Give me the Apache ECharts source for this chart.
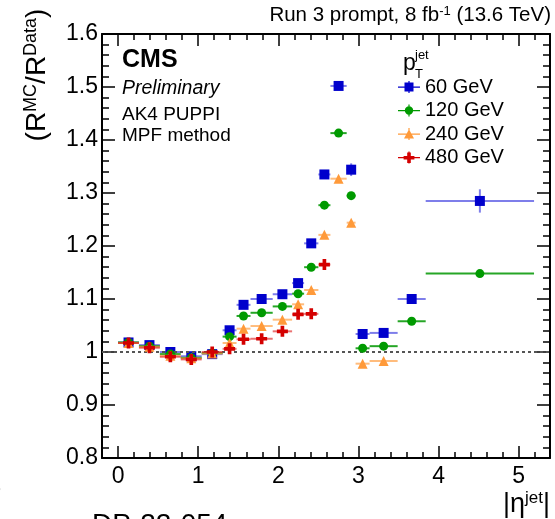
<!DOCTYPE html>
<html>
<head>
<meta charset="utf-8">
<script src="https://cdn.jsdelivr.net/npm/echarts@6/dist/echarts.min.js"></script>
<style>
  html, body { margin: 0; padding: 0; background: #fff; }
  #chart { width: 555px; height: 519px; }
</style>
</head>
<body>
<div id="chart"></div>
<script>
// |eta| binning of the jet response ratio
const etaEdges = [0, 0.261, 0.522, 0.783, 1.044, 1.305, 1.479, 1.653, 1.930, 2.172,
                  2.322, 2.5, 2.65, 2.853, 2.964, 3.139, 3.489, 3.839, 5.191];
const etaCenters = [0.131, 0.392, 0.653, 0.914, 1.175, 1.392, 1.566, 1.792, 2.051, 2.247,
                    2.411, 2.575, 2.752, 2.909, 3.052, 3.314, 3.664, 4.515];

// R(MC)/R(Data), MPF method, per pT bin (null = no measurement)
const ratio60  = [1.018, 1.013, 1.000, 0.992, 0.996, 1.041, 1.089, 1.100, 1.109, 1.130,
                  1.205, 1.335, 1.502, 1.344, 1.034, 1.036, 1.100, 1.285];
const ratio120 = [1.018, 1.011, 0.996, 0.989, 0.998, 1.029, 1.068, 1.074, 1.086, 1.110,
                  1.160, 1.277, 1.413, 1.295, 1.007, 1.011, 1.058, 1.148];
const ratio240 = [1.017, 1.010, 0.993, 0.988, 0.997, 1.017, 1.044, 1.049, 1.061, 1.090,
                  1.117, 1.221, 1.327, 1.244, 0.978, 0.983, null, null];
const ratio480 = [1.017, 1.008, 0.991, 0.986, 1.000, 1.006, 1.024, 1.025, 1.039, 1.071,
                  1.072, 1.165, null, null, null, null, null, null];

// statistical uncertainties
const err60  = [0.003, 0.003, 0.003, 0.003, 0.003, 0.005, 0.003, 0.003, 0.003, 0.003,
                0.004, 0.005, 0.008, 0.012, 0.004, 0.004, 0.005, 0.022];
const err120 = [0.002, 0.002, 0.002, 0.002, 0.002, 0.003, 0.002, 0.002, 0.002, 0.002,
                0.003, 0.003, 0.004, 0.005, 0.003, 0.003, 0.003, 0.006];
const err240 = [0.002, 0.002, 0.002, 0.002, 0.002, 0.003, 0.002, 0.002, 0.002, 0.002,
                0.003, 0.003, 0.004, 0.005, 0.004, 0.004, null, null];
const err480 = [0.003, 0.003, 0.003, 0.003, 0.003, 0.004, 0.003, 0.003, 0.003, 0.004,
                0.004, 0.005, null, null, null, null, null, null];

const seriesNames = ['60 GeV', '120 GeV', '240 GeV', '480 GeV'];
const xMajorTicks = [0, 1, 2, 3, 4, 5];
const xMinorTicks = [0.2, 0.4, 0.6, 0.8, 1.2, 1.4, 1.6, 1.8, 2.2, 2.4, 2.6, 2.8,
                     3.2, 3.4, 3.6, 3.8, 4.2, 4.4, 4.6, 4.8, 5.2];

const FONT = 'Liberation Sans, Arial, Helvetica, sans-serif';
const colors = ['#0000cc', '#009a00', '#ff9a3a', '#d40000'];
const barColors = ['rgba(40,40,220,0.6)', 'rgba(0,150,0,0.85)', 'rgba(255,160,70,0.7)', 'rgba(220,20,20,0.6)'];
const crossPath = 'path://M4,0h4v4h4v4h-4v4h-4v-4h-4v-4h4z';
const symbols = ['rect', 'circle', 'triangle', crossPath];
const symbolSizes = [10, 9, 10, 11];
const legendIcons = [
  'path://M0,5.5h22v1.2h-22z M10.4,0h1.2v12h-1.2z M6.5,1.5h9v9h-9z',
  'path://M0,5.5h22v1.2h-22z M10.4,0h1.2v12h-1.2z M6.8,6a4.2,4.2 0 1,1 8.4,0a4.2,4.2 0 1,1 -8.4,0z',
  'path://M0,5.5h22v1.2h-22z M10.4,0h1.2v12h-1.2z M11,1.2L16,10.5H6z',
  'path://M0,5.5h22v1.2h-22z M10.4,0h1.2v12h-1.2z M9.2,1h3.6v3.4h3.6v3.6h-3.6v3.6h-3.6v-3.6h-3.6v-3.6h3.6z'
];
const values = [ratio60, ratio120, ratio240, ratio480];
const errors = [err60, err120, err240, err480];

function pointRows(vals, errs) {
  const rows = [];
  vals.forEach((v, i) => {
    if (v !== null) rows.push([etaCenters[i], v, etaEdges[i], etaEdges[i + 1], errs[i]]);
  });
  return rows;
}

const series = [];
values.forEach((vals, k) => {
  const rows = pointRows(vals, errors[k]);
  // horizontal bin-width bars and vertical uncertainty bars
  series.push({
    type: 'custom',
    name: seriesNames[k] + ' err',
    xAxisIndex: 0, yAxisIndex: 0,
    data: rows,
    encode: { x: [0, 2, 3], y: 1 },
    silent: true,
    z: 2 + k * 2,
    renderItem: (params, api) => {
      const x = api.value(0), y = api.value(1), e = api.value(4);
      const l = api.coord([api.value(2), y]);
      const r = api.coord([api.value(3), y]);
      const t = api.coord([x, y + e]);
      const b = api.coord([x, y - e]);
      const st = { stroke: barColors[k], lineWidth: 2 };
      return {
        type: 'group',
        children: [
          { type: 'line', shape: { x1: l[0], y1: l[1], x2: r[0], y2: r[1] }, style: st },
          { type: 'line', shape: { x1: t[0], y1: t[1], x2: b[0], y2: b[1] }, style: st }
        ]
      };
    }
  });
  // markers
  series.push({
    type: 'scatter',
    name: seriesNames[k],
    xAxisIndex: 0, yAxisIndex: 0,
    data: rows.map(r => [r[0], r[1]]),
    symbol: symbols[k],
    symbolSize: symbolSizes[k],
    itemStyle: { color: colors[k], opacity: 1 },
    silent: true,
    z: 3 + k * 2
  });
});

// reference line at unity
series[0].markLine = {
  silent: true,
  symbol: 'none',
  label: { show: false },
  lineStyle: { color: '#555', type: [3, 3], width: 2 },
  data: [{ yAxis: 1 }]
};

const axisLineStyle = { color: '#000', width: 2 };
const tickStyle = { color: '#000', width: 1.5 };

function xAxisDef(position, major, showLine, showLabel) {
  return {
    type: 'value', min: -0.2, max: 5.39, position: position,
    axisLine: { show: showLine, onZero: false, lineStyle: axisLineStyle },
    axisTick: { show: true, inside: true, length: major ? 12 : 6,
                customValues: major ? xMajorTicks : xMinorTicks, lineStyle: tickStyle },
    axisLabel: { show: showLabel, customValues: xMajorTicks, color: '#000',
                 fontSize: 23, fontFamily: FONT, margin: 7 },
    splitLine: { show: false }
  };
}

function yAxisDef(position, showLabel) {
  return {
    type: 'value', min: 0.8, max: 1.6, interval: 0.1, position: position,
    axisLine: { show: true, onZero: false, lineStyle: axisLineStyle },
    axisTick: { show: true, inside: true, length: 13, lineStyle: tickStyle },
    minorTick: { show: true, splitNumber: 5, length: 7, lineStyle: tickStyle },
    axisLabel: { show: showLabel, color: '#000', fontSize: 23, fontFamily: FONT, margin: 4,
                 formatter: v => String(Math.round(v * 10) / 10) },
    splitLine: { show: false },
    minorSplitLine: { show: false }
  };
}

const option = {
  backgroundColor: '#fff',
  animation: false,
  grid: { left: 102, right: 5, top: 34, bottom: 61, containLabel: false, outerBoundsMode: 'none' },
  xAxis: [
    xAxisDef('bottom', true, true, true),
    xAxisDef('bottom', false, false, false),
    xAxisDef('top', true, true, false),
    xAxisDef('top', false, false, false)
  ],
  yAxis: [yAxisDef('left', true), yAxisDef('right', false)],
  legend: {
    orient: 'vertical',
    left: 398, top: 77,
    padding: 0,
    itemWidth: 22, itemHeight: 12, itemGap: 3.5,
    selectedMode: false,
    textStyle: { color: '#000', fontSize: 20, fontFamily: FONT },
    data: seriesNames.map((n, k) => ({ name: n, icon: legendIcons[k] }))
  },
  graphic: [
    { type: 'text', x: 551, y: 15, z: 50,
      style: { text: '{a|Run 3 prompt, 8 fb}{s|-1}{a| (13.6 TeV)}', align: 'right', verticalAlign: 'middle',
               rich: { a: { fontSize: 20.5, fontFamily: FONT, fill: '#000', lineHeight: 21 },
                       s: { fontSize: 13, fontFamily: FONT, fill: '#000', verticalAlign: 'top' } } } },
    { type: 'text', x: 122, y: 60, z: 50,
      style: { text: 'CMS', font: 'bold 25px ' + FONT, fill: '#000', verticalAlign: 'middle' } },
    { type: 'text', x: 122, y: 89, z: 50,
      style: { text: 'Preliminary', font: 'italic 19.5px ' + FONT, fill: '#000', verticalAlign: 'middle' } },
    { type: 'text', x: 122, y: 114.5, z: 50,
      style: { text: 'AK4 PUPPI', font: '19px ' + FONT, fill: '#000', verticalAlign: 'middle' } },
    { type: 'text', x: 122, y: 135.5, z: 50,
      style: { text: 'MPF method', font: '19px ' + FONT, fill: '#000', verticalAlign: 'middle' } },
    // legend header p_T^jet
    { type: 'text', x: 403, y: 64, z: 50,
      style: { text: 'p', font: '23px ' + FONT, fill: '#000', verticalAlign: 'middle' } },
    { type: 'text', x: 415, y: 55, z: 50,
      style: { text: 'jet', font: '13px ' + FONT, fill: '#000', verticalAlign: 'middle' } },
    { type: 'text', x: 415, y: 74, z: 50,
      style: { text: 'T', font: '13px ' + FONT, fill: '#000', verticalAlign: 'middle' } },
    // y-axis title
    { type: 'text', x: 37, y: 75, rotation: Math.PI / 2, z: 50,
      style: { text: '{a|(R}{s|MC}{a|/R}{s|Data}{a|)}', align: 'center', verticalAlign: 'middle',
               rich: { a: { fontSize: 28, fontFamily: FONT, fill: '#000', lineHeight: 30 },
                       s: { fontSize: 18, fontFamily: FONT, fill: '#000', verticalAlign: 'top' } } } },
    // x-axis title
    { type: 'text', x: 550, y: 505, z: 50,
      style: { text: '{a||\u03B7}{s|jet}{a||}', align: 'right', verticalAlign: 'middle',
               rich: { a: { fontSize: 27, fontFamily: FONT, fill: '#000', lineHeight: 30 },
                       s: { fontSize: 17, fontFamily: FONT, fill: '#000', verticalAlign: 'top' } } } },
    // caption text running off the lower edge
    { type: 'text', x: 92, y: 525, z: 50,
      style: { text: 'DP-22-054', font: '28px ' + FONT, fill: '#000', verticalAlign: 'middle' } },
    { type: 'text', x: -8, y: 489, z: 50,
      style: { text: ')', font: '30px ' + FONT, fill: '#000', verticalAlign: 'middle' } }
  ],
  series: series
};

const chart = echarts.init(document.getElementById('chart'), null, { renderer: 'canvas' });
chart.setOption(option);
</script>
</body>
</html>
